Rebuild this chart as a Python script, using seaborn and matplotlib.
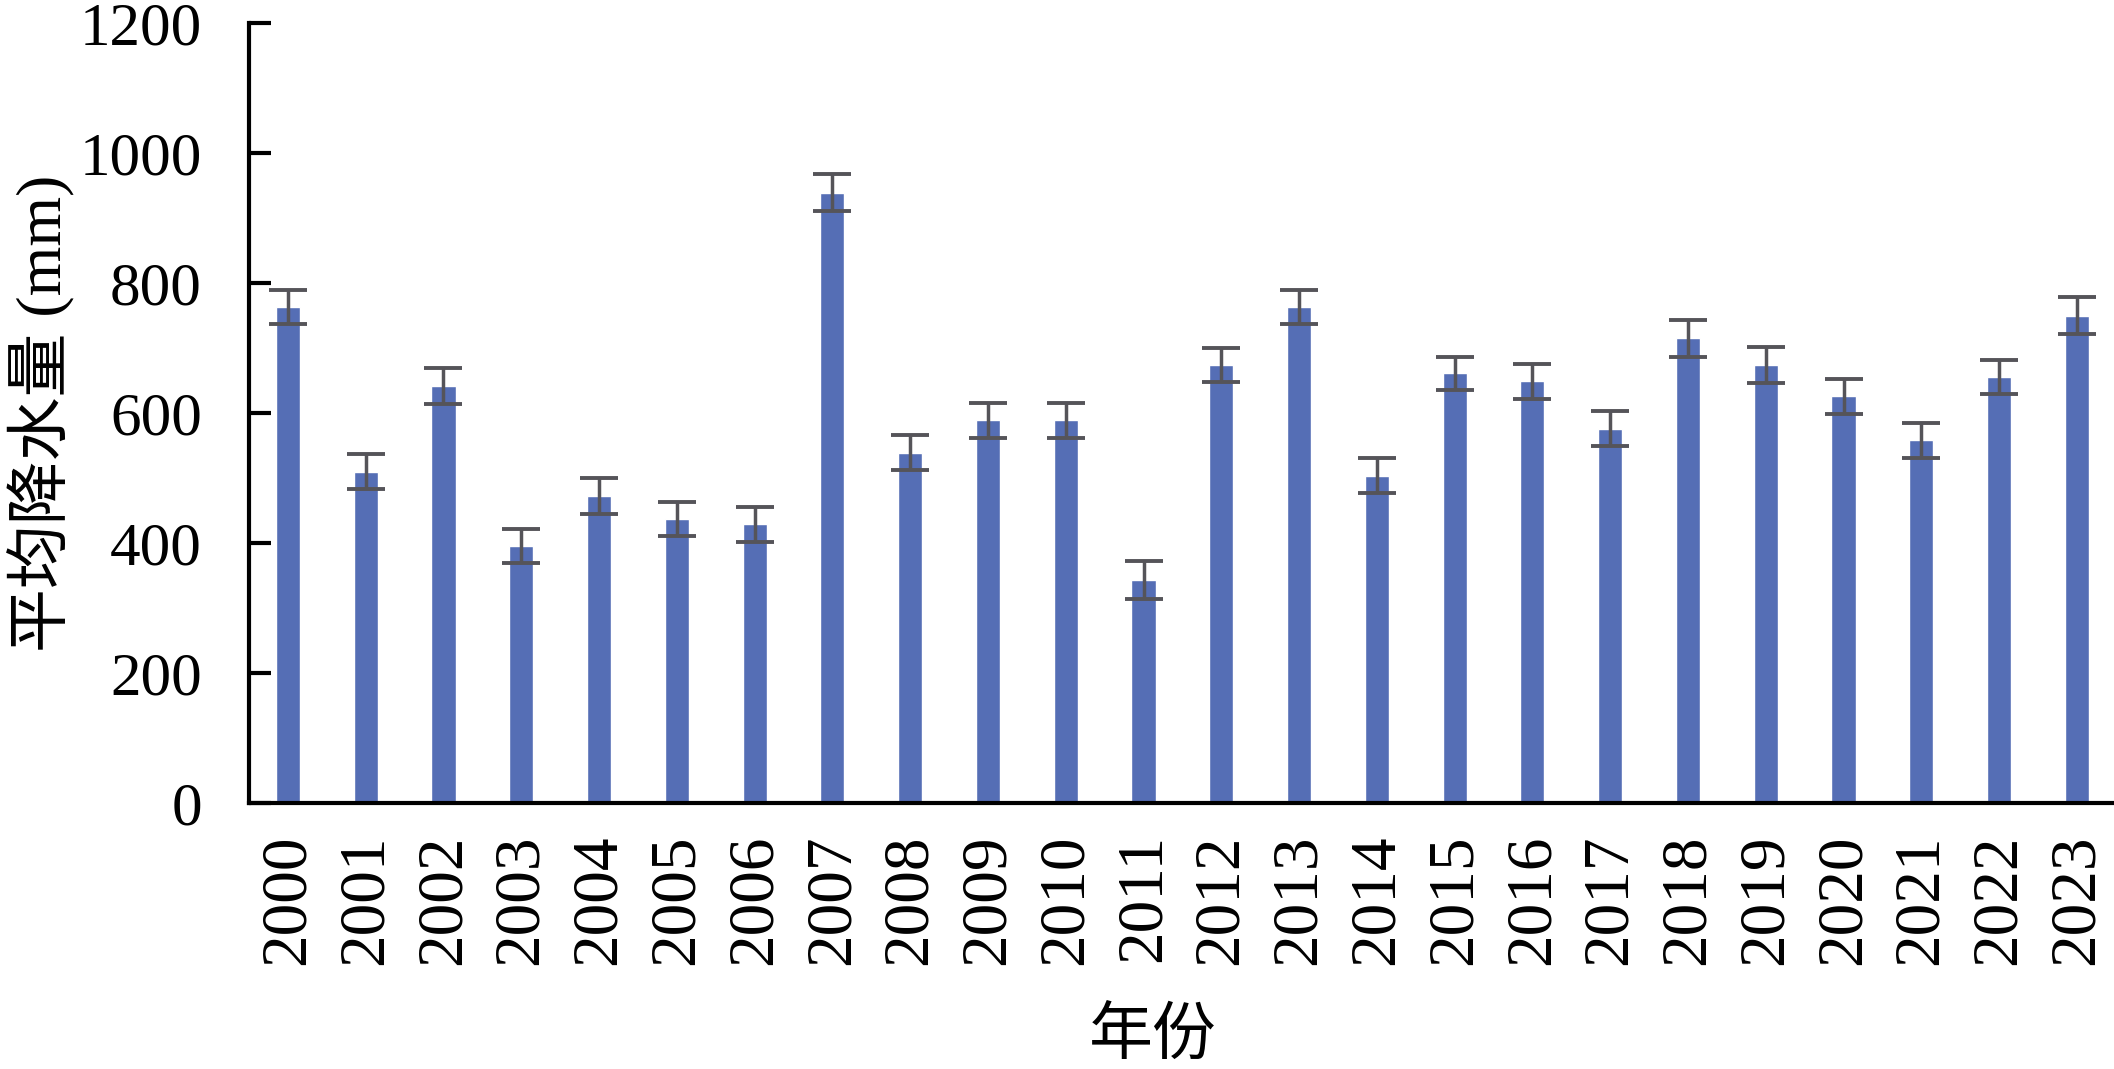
import numpy as np
import pandas as pd
import matplotlib
matplotlib.use("Agg")
import matplotlib.pyplot as plt
import seaborn as sns

# data
years = [str(y) for y in range(2000, 2024)]
rain = [763, 510, 642, 396, 473, 437, 429, 939, 539, 589, 589, 344,
        674, 763, 504, 661, 649, 576, 715, 674, 626, 558, 655, 750]
err = [26, 27, 28, 26, 28, 26, 27, 28, 27, 27, 27, 29,
       26, 26, 27, 26, 27, 27, 28, 27, 27, 27, 26, 28]
yticks = [0, 200, 400, 600, 800, 1000, 1200]

sns.set_theme(style="ticks")
plt.rcParams['font.family'] = ['Liberation Serif', 'Noto Sans CJK SC']
plt.rcParams['axes.unicode_minus'] = False

df = pd.DataFrame({"year": years, "rain": rain, "err": err})

fig, ax = plt.subplots(figsize=(21.14, 10.69), dpi=100)
fig.subplots_adjust(left=0.1178, right=0.999, top=0.9786, bottom=0.2484)

sns.barplot(data=df, x="year", y="rain", color="#556eb5", saturation=1,
            width=0.31, errorbar=None, ax=ax)
ax.errorbar(np.arange(len(years)), df["rain"], yerr=df["err"], fmt="none",
            ecolor="#555459", elinewidth=2.5, capsize=14, capthick=2.8)

ax.set_ylim(0, 1200)
ax.set_xlim(-0.5, 23.45)
ax.set_yticks(yticks)
ax.set_yticklabels([str(t) for t in yticks])
sns.despine(ax=ax)
for s in ["left", "bottom"]:
    ax.spines[s].set_linewidth(3)
    ax.spines[s].set_color("black")

ax.tick_params(axis="y", direction="in", length=16, width=3, pad=34,
               labelsize=44, colors="black")
ax.tick_params(axis="x", length=0, pad=22, labelsize=47, rotation=90,
               colors="black")

ax.set_xlabel("年份", fontsize=46, color="black")
ax.set_ylabel("平均降水量 (mm)", fontsize=46, color="black")
ax.xaxis.set_label_coords(0.485, -0.265)
ax.yaxis.set_label_coords(-0.093, 0.5)

fig.savefig("out.png", dpi=100, facecolor="white")
